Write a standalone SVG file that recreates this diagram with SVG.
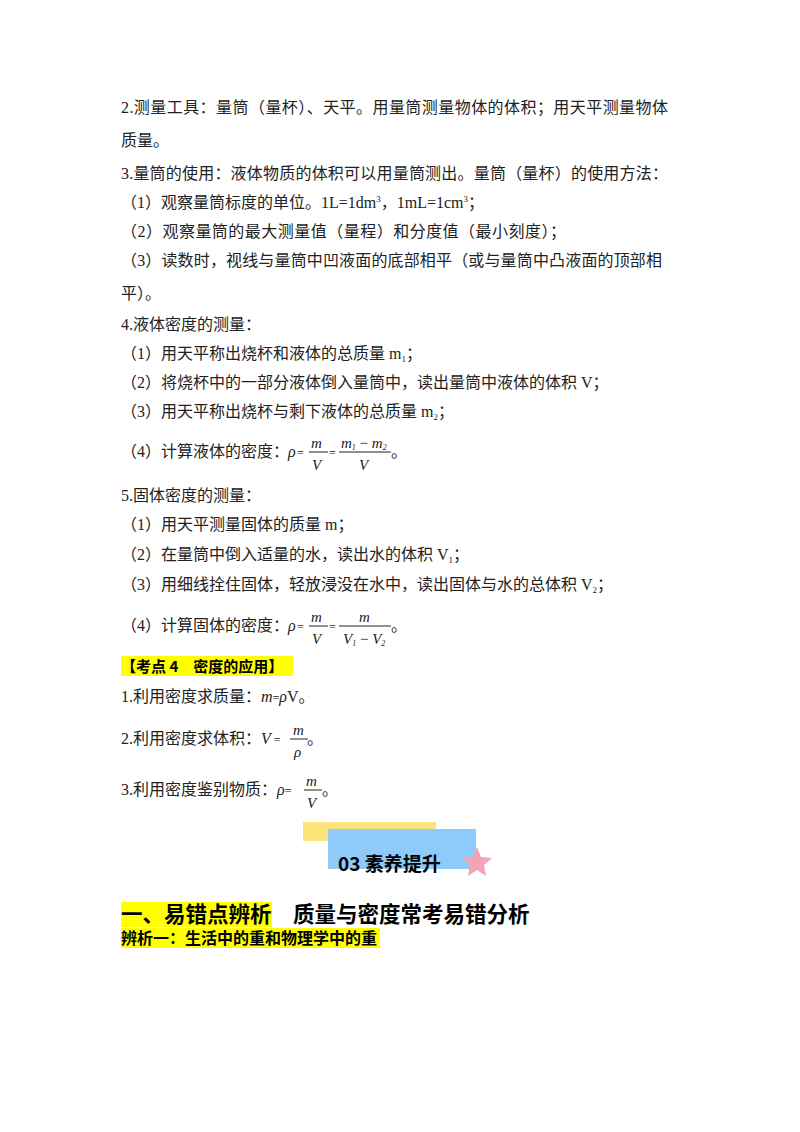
<svg xmlns="http://www.w3.org/2000/svg" width="800" height="1132" viewBox="0 0 800 1132" font-size="16">
<style>
text{font-family:"Liberation Serif","Noto Sans CJK SC",serif;fill:#222}
.m{font-family:"Liberation Serif",serif;font-style:italic}
.b{font-family:"Noto Sans CJK SC",sans-serif;font-weight:bold;fill:#000}
.hl{fill:#ffff00}
line{stroke:#222;stroke-width:1}
</style>
<rect width="800" height="1132" fill="#fff"/>
<text x="121" y="113" textLength="547" lengthAdjust="spacing">2.测量工具：量筒（量杯）、天平。用量筒测量物体的体积；用天平测量物体</text>
<text x="121" y="146">质量。</text>
<text x="121" y="179" textLength="547" lengthAdjust="spacing">3.量筒的使用：液体物质的体积可以用量筒测出。量筒（量杯）的使用方法：</text>
<text x="121" y="208">（1）观察量筒标度的单位。1L=1dm<tspan font-size="9" dy="-6">3</tspan><tspan dy="6">，1mL=1cm</tspan><tspan font-size="9" dy="-6">3</tspan><tspan dy="6">；</tspan></text>
<text x="121" y="237" textLength="445" lengthAdjust="spacing">（2）观察量筒的最大测量值（量程）和分度值（最小刻度）；</text>
<text x="121" y="266" textLength="541" lengthAdjust="spacing">（3）读数时，视线与量筒中凹液面的底部相平（或与量筒中凸液面的顶部相</text>
<text x="121" y="299">平）。</text>
<text x="121" y="330">4.液体密度的测量：</text>
<text x="121" y="359">（1）用天平称出烧杯和液体的总质量 m<tspan font-size="9" dy="3">1</tspan><tspan dy="-3">；</tspan></text>
<text x="121" y="388">（2）将烧杯中的一部分液体倒入量筒中，读出量筒中液体的体积 V；</text>
<text x="121" y="417">（3）用天平称出烧杯与剩下液体的总质量 m<tspan font-size="9" dy="3">2</tspan><tspan dy="-3">；</tspan></text>
<text x="121" y="457">（4）计算液体的密度：</text>
<text class="m" x="288" y="457">ρ</text><text x="297" y="457" font-size="12">=</text>
<text class="m" x="311" y="448" font-size="15">m</text><line x1="309" y1="452" x2="328" y2="452"/><text class="m" x="312" y="470" font-size="15">V</text>
<text x="329" y="457" font-size="12">=</text>
<text class="m" x="341" y="448" font-size="15">m<tspan font-size="8" dy="2">1</tspan><tspan dy="-2" font-style="normal"> − </tspan>m<tspan font-size="8" dy="2">2</tspan></text>
<line x1="339" y1="452" x2="391" y2="452"/><text class="m" x="359" y="470" font-size="15">V</text>
<text x="391" y="457">。</text>
<text x="121" y="501">5.固体密度的测量：</text>
<text x="121" y="530">（1）用天平测量固体的质量 m；</text>
<text x="121" y="560">（2）在量筒中倒入适量的水，读出水的体积 V<tspan font-size="9" dy="3">1</tspan><tspan dy="-3">；</tspan></text>
<text x="121" y="590">（3）用细线拴住固体，轻放浸没在水中，读出固体与水的总体积 V<tspan font-size="9" dy="3">2</tspan><tspan dy="-3">；</tspan></text>
<text x="121" y="631">（4）计算固体的密度：</text>
<text class="m" x="288" y="631">ρ</text><text x="297" y="631" font-size="12">=</text>
<text class="m" x="311" y="622" font-size="15">m</text><line x1="309" y1="626" x2="328" y2="626"/><text class="m" x="312" y="644" font-size="15">V</text>
<text x="329" y="631" font-size="12">=</text>
<text class="m" x="359" y="622" font-size="15">m</text>
<line x1="339" y1="626" x2="391" y2="626"/><text class="m" x="343" y="644" font-size="15">V<tspan font-size="8" dy="2">1</tspan><tspan dy="-2" font-style="normal"> − </tspan>V<tspan font-size="8" dy="2">2</tspan></text>
<text x="391" y="631">。</text>
<rect class="hl" x="121" y="656" width="172" height="20"/>
<text class="b" x="121" y="672" font-size="15">【考点 4　密度的应用】</text>
<text x="121" y="702">1.利用密度求质量：<tspan class="m">m</tspan><tspan font-size="12">=</tspan><tspan class="m">ρ</tspan>V。</text>
<text x="121" y="744">2.利用密度求体积：<tspan class="m">V</tspan><tspan font-size="12"> =</tspan></text>
<text class="m" x="293" y="735" font-size="15">m</text><line x1="290" y1="739" x2="308" y2="739"/><text class="m" x="294" y="757" font-size="15">ρ</text>
<text x="307" y="744">。</text>
<text x="121" y="795">3.利用密度鉴别物质：<tspan class="m">ρ</tspan><tspan font-size="12">=</tspan></text>
<text class="m" x="306" y="786" font-size="15">m</text><line x1="304" y1="790" x2="322" y2="790"/><text class="m" x="307" y="808" font-size="15">V</text>
<text x="322" y="795">。</text>
<g id="banner">
<rect x="303" y="822" width="133" height="19" fill="#fce37a"/>
<rect x="328" y="829" width="148" height="40" fill="#8ecbfa"/>
<polygon points="477,847 481,857 492,858 484,865 486,876 477,870 468,876 470,865 462,858 473,857" fill="#f4a3b5"/>
<text class="b" x="338" y="871" font-size="19">03 素养提升</text>
</g>
<rect class="hl" x="121" y="902" width="151" height="25"/>
<text class="b" x="121" y="922" font-size="21.5">一、易错点辨析　质量与密度常考易错分析</text>
<rect class="hl" x="121" y="928" width="259" height="20"/>
<text class="b" x="121" y="944" font-size="16">辨析一：生活中的重和物理学中的重</text>
</svg>
